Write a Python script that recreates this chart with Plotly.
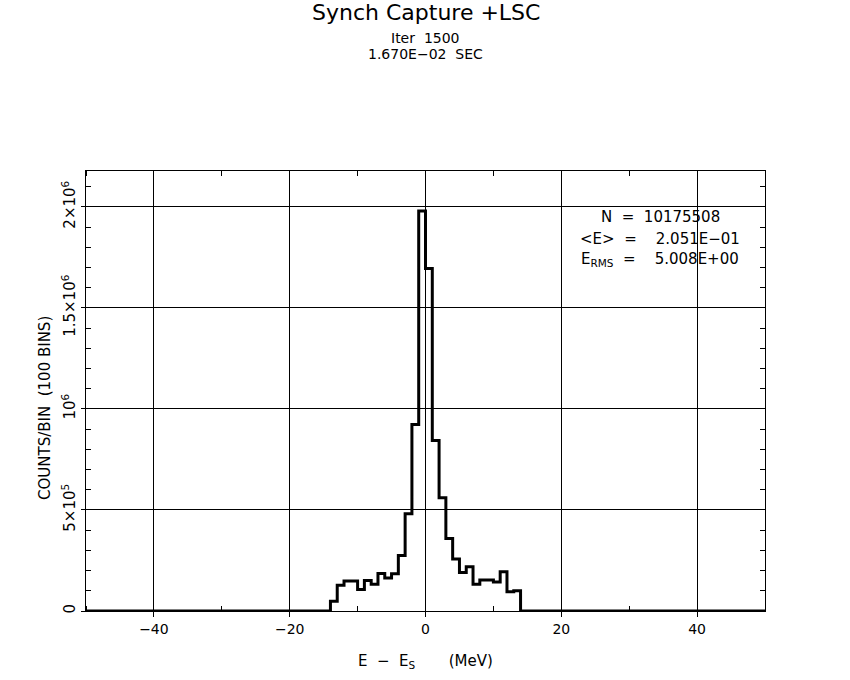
import plotly.graph_objects as go

# ---- data ----
bin_lo = -50
bin_hi = 50
nbins = 100
# counts for bins [-14,-13] ... [13,14]
first_bin = -14
counts_nonzero = [48e3, 127e3, 148e3, 148e3, 107e3, 151e3, 133e3, 186e3, 163e3, 184e3,
                  275e3, 482e3, 923e3, 1980e3,
                  1695e3, 844e3, 561e3, 359e3, 258e3, 191e3, 219e3, 132e3, 153e3, 153e3,
                  143e3, 194e3, 95e3, 100e3]
ytick_vals = [0, 5e5, 1e6, 1.5e6, 2e6]
ytick_text = ["0", "5×10<sup>5</sup>", "10<sup>6</sup>", "1.5×10<sup>6</sup>", "2×10<sup>6</sup>"]
xtick_vals = [-40, -20, 0, 20, 40]
NB = "\u00a0"
title_text = "Synch Capture +LSC"
sub1 = "Iter" + NB * 2 + "1500"
sub2 = "1.670E−02" + NB * 2 + "SEC"
stats = ["N" + NB * 2 + "=" + NB * 2 + "10175508",
         "&lt;E&gt;" + NB * 2 + "=" + NB * 4 + "2.051E−01",
         "E<sub>RMS</sub>" + NB * 2 + "=" + NB * 4 + "5.008E+00"]
xlabel = "E" + NB * 2 + "−" + NB * 2 + "E<sub>S</sub>" + NB * 7 + "(MeV)"
ylabel = "COUNTS/BIN" + NB * 2 + "(100" + NB + "BINS)"
ymax = 2.178e6

# build full histogram
width = (bin_hi - bin_lo) / nbins
edges = [bin_lo + i * width for i in range(nbins + 1)]
counts = [0.0] * nbins
start = int((first_bin - bin_lo) / width)
for i, c in enumerate(counts_nonzero):
    counts[start + i] = c
xs = edges
ys = counts + [counts[-1]]

FONT = "DejaVu Sans"

fig = go.Figure()
fig.add_trace(go.Scatter(x=xs, y=ys, mode="lines", line=dict(color="black", width=3, shape="hv"),
                         hoverinfo="skip", showlegend=False))
# invisible trace for mirrored axes
fig.add_trace(go.Scatter(x=[bin_lo], y=[0], xaxis="x2", yaxis="y2", mode="markers",
                         marker=dict(opacity=0), hoverinfo="skip", showlegend=False))

axis_common = dict(showline=True, linecolor="black", linewidth=1, zeroline=False,
                   showgrid=True, gridcolor="black", gridwidth=1)

fig.update_layout(
    width=850, height=680,
    paper_bgcolor="white", plot_bgcolor="white",
    margin=dict(l=86, r=85, t=171, b=69),
    font=dict(family=FONT, color="black", size=14),
    xaxis=dict(range=[bin_lo, bin_hi], tickvals=xtick_vals, ticks="outside", ticklen=5,
               tickcolor="black", tickfont=dict(size=14),
               minor=dict(dtick=10, ticks="inside", ticklen=5, tickcolor="black", showgrid=False),
               **axis_common),
    yaxis=dict(range=[0, ymax], tickvals=ytick_vals, ticktext=ytick_text, ticks="outside",
               ticklen=4, tickcolor="black", tickangle=-90, tickfont=dict(size=15),
               minor=dict(dtick=1e5, tick0=0, ticks="inside", ticklen=5, tickcolor="black", showgrid=False),
               **axis_common),
    xaxis2=dict(range=[bin_lo, bin_hi], overlaying="x", side="top", showticklabels=False,
                showgrid=False, zeroline=False, ticks="", showline=True, linecolor="black",
                tickvals=xtick_vals,
                minor=dict(dtick=10, ticks="inside", ticklen=5, tickcolor="black", showgrid=False),
                anchor="y"),
    yaxis2=dict(range=[0, ymax], overlaying="y", side="right", showticklabels=False,
                showgrid=False, zeroline=False, ticks="", showline=True, linecolor="black",
                tickvals=ytick_vals,
                minor=dict(dtick=1e5, tick0=0, ticks="inside", ticklen=5, tickcolor="black", showgrid=False),
                anchor="x"),
)

ann = []
ann.append(dict(text=title_text, x=0.5, y=(611 - 13) / 440, xref="paper", yref="paper",
                showarrow=False, font=dict(size=22), xanchor="center", yanchor="middle"))
ann.append(dict(text=sub1, x=0.5, y=(611 - 38) / 440, xref="paper", yref="paper",
                showarrow=False, font=dict(size=14), xanchor="center", yanchor="middle"))
ann.append(dict(text=sub2, x=0.5, y=(611 - 54) / 440, xref="paper", yref="paper",
                showarrow=False, font=dict(size=14), xanchor="center", yanchor="middle"))
stat_y = [1.951e6, 1.842e6, 1.74e6]
for t, yy in zip(stats, stat_y):
    ann.append(dict(text=t, x=34.6, y=yy, xref="x", yref="y", showarrow=False,
                    font=dict(size=15), xanchor="center", yanchor="middle"))
ann.append(dict(text=xlabel, x=0.5, y=(611 - 661) / 440, xref="paper",
                yref="paper", showarrow=False, font=dict(size=15), xanchor="center", yanchor="middle"))
ann.append(dict(text=ylabel, x=(45 - 86) / 679, y=(611 - 408) / 440,
                xref="paper", yref="paper", showarrow=False, textangle=-90,
                font=dict(size=15), xanchor="center", yanchor="middle"))
fig.update_layout(annotations=ann)

fig.write_html("out.html", config={"displayModeBar": False},
               post_script="document.body.style.margin='0';")
